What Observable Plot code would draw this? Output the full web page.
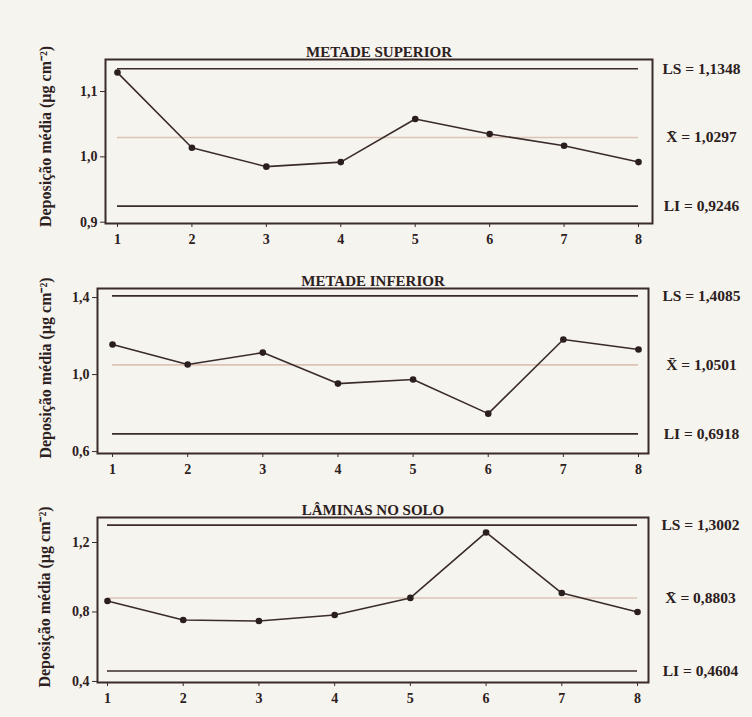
<!DOCTYPE html>
<html>
<head>
<meta charset="utf-8">
<script src="https://cdn.jsdelivr.net/npm/d3@7"></script>
<script src="https://cdn.jsdelivr.net/npm/@observablehq/plot@0.6"></script>
<style>
  html, body { margin: 0; padding: 0; background: #f6f4ef; }
  #wrap { position: relative; width: 752px; height: 717px; overflow: hidden; background: #f6f4ef; }
  #wrap svg { position: absolute; left: 0; background: transparent; }
</style>
</head>
<body>
<div id="wrap"></div>
<script>
// ---- data ----
const samples = [1, 2, 3, 4, 5, 6, 7, 8];
const panelTitles = ["METADE SUPERIOR", "METADE INFERIOR", "LÂMINAS NO SOLO"];
const metadeSuperior = [1.129, 1.014, 0.985, 0.992, 1.058, 1.035, 1.017, 0.992];
const metadeInferior = [1.156, 1.052, 1.114, 0.953, 0.974, 0.797, 1.182, 1.130];
const laminasSolo   = [0.863, 0.754, 0.748, 0.783, 0.881, 1.258, 0.909, 0.800];
const limiteSuperior = [1.1348, 1.4085, 1.3002];
const mediaGeral     = [1.0297, 1.0501, 0.8803];
const limiteInferior = [0.9246, 0.6918, 0.4604];
const yTickValues = [[0.9, 1.0, 1.1], [0.6, 1.0, 1.4], [0.4, 0.8, 1.2]];
const yLabel = "Deposição média (µg cm⁻²)";

// ---- layout (not data) ----
const layouts = [
  {top: 30,  height: 223, marginTop: 29, marginLeft: 105, marginRight: 100, yDomain: [0.898, 1.149], xDomain: [0.839, 8.188], labelDx: -60, labelDy: -5},
  {top: 260, height: 223, marginTop: 28, marginLeft: 97,  marginRight: 104, yDomain: [0.590, 1.447], xDomain: [0.800, 8.133], labelDx: -52, labelDy: -3},
  {top: 488, height: 224, marginTop: 29, marginLeft: 97,  marginRight: 104, yDomain: [0.394, 1.344], xDomain: [0.868, 8.145], labelDx: -53, labelDy: -3}
];
const series = [metadeSuperior, metadeInferior, laminasSolo];

const dark = "#3a2b2b";
const textColor = "#2c2020";
const meanColor = "#dcc3b5";
const font = "'Liberation Serif', 'Times New Roman', serif";
const comma = s => s.replace(".", ",");
const fmt1 = d => comma(d.toFixed(1));
const fmt4 = d => comma(d.toFixed(4));

const wrap = document.getElementById("wrap");

series.forEach((vals, i) => {
  const L = layouts[i];
  const rows = samples.map((s, j) => ({sample: s, value: vals[j]}));
  const limits = [
    {y: limiteSuperior[i], t: "LS = " + fmt4(limiteSuperior[i]), kind: "lim"},
    {y: mediaGeral[i], t: "X\u0304 = " + fmt4(mediaGeral[i]), kind: "mean"},
    {y: limiteInferior[i], t: "LI = " + fmt4(limiteInferior[i]), kind: "lim"}
  ];
  const x1 = samples[0], x2 = samples[samples.length - 1];
  const chart = Plot.plot({
    width: 752,
    height: L.height,
    marginTop: L.marginTop,
    marginBottom: 30,
    marginLeft: L.marginLeft,
    marginRight: L.marginRight,
    style: {fontFamily: font, fontSize: "14px", color: textColor, background: "transparent", overflow: "visible"},
    x: {domain: L.xDomain, ticks: samples, tickFormat: d => String(d), label: null},
    y: {domain: L.yDomain, ticks: yTickValues[i], tickFormat: fmt1, label: null},
    marks: [
      Plot.ruleY(limits.filter(d => d.kind === "mean"), {y: "y", x1: () => x1, x2: () => x2, stroke: meanColor, strokeWidth: 1.6}),
      Plot.ruleY(limits.filter(d => d.kind === "lim"), {y: "y", x1: () => x1, x2: () => x2, stroke: dark, strokeWidth: 1.6}),
      Plot.line(rows, {x: "sample", y: "value", stroke: dark, strokeWidth: 1.6}),
      Plot.dot(rows, {x: "sample", y: "value", r: 3.3, fill: "#2a1e1e", stroke: "none"}),
      Plot.frame({stroke: dark, strokeWidth: 2}),
      Plot.axisX({ticks: samples, tickFormat: d => String(d), tickSize: 4, tickPadding: 7, stroke: dark, fill: textColor, fontSize: 14, fontWeight: "bold", label: null}),
      Plot.axisY({ticks: yTickValues[i], tickFormat: fmt1, tickSize: 5, tickPadding: 3, stroke: dark, fill: textColor, fontSize: 14, fontWeight: "bold", label: null}),
      Plot.text(limits, {x: () => x2, y: "y", text: "t", dx: 63, fill: textColor, fontSize: 15.5, fontWeight: "bold", textAnchor: "middle"}),
      Plot.text([panelTitles[i]], {frameAnchor: "top", text: d => d, dy: -13, fill: textColor, fontSize: 15, fontWeight: "bold"}),
      Plot.text([yLabel], {frameAnchor: "left", textAnchor: "middle", text: d => d, rotate: -90, dx: L.labelDx, dy: L.labelDy, fill: textColor, fontSize: 16, fontWeight: "bold"})
    ]
  });
  chart.style.top = L.top + "px";
  wrap.appendChild(chart);
});
</script>
</body>
</html>
